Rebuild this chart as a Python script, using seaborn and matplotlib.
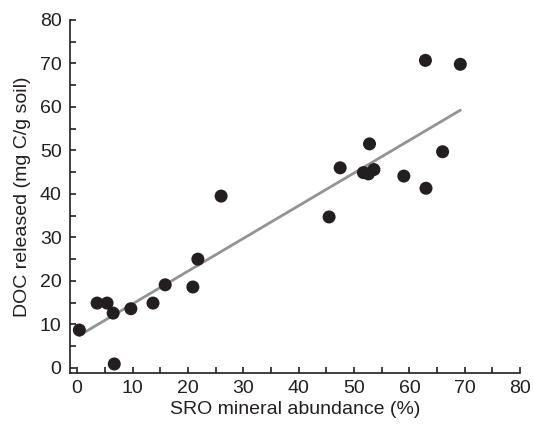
import numpy as np
import pandas as pd
import matplotlib
matplotlib.use('Agg')
import matplotlib.pyplot as plt
import seaborn as sns
from matplotlib.ticker import MultipleLocator

# values
sro_abundance = [0.4, 3.6, 5.4, 6.5, 6.7, 9.7, 13.7, 15.9, 20.9, 21.8, 26.0,
                 45.5, 47.5, 51.7, 52.6, 52.8, 53.6, 59.0, 63.0, 62.9, 66.0, 69.2]
doc_released = [8.7, 14.9, 14.9, 12.6, 0.9, 13.6, 14.9, 19.1, 18.6, 25.0, 39.5,
                34.7, 46.0, 44.9, 44.6, 51.5, 45.6, 44.1, 41.3, 70.7, 49.7, 69.8]

df = pd.DataFrame({'SRO mineral abundance (%)': sro_abundance,
                   'DOC released (mg C/g soil)': doc_released})

sns.set_style('ticks')
plt.rcParams['font.family'] = ['Liberation Sans', 'DejaVu Sans']
ink = '#231f20'

fig = plt.figure(figsize=(5.34, 4.24), dpi=100)
ax = fig.add_axes([0.131, 0.120, 0.843, 0.833])

sns.regplot(data=df, x='SRO mineral abundance (%)', y='DOC released (mg C/g soil)',
            ci=None, truncate=True, ax=ax,
            scatter_kws={'s': 88, 'color': ink, 'edgecolor': 'none', 'alpha': 1, 'zorder': 3},
            line_kws={'color': '#939393', 'lw': 2, 'zorder': 2})

ax.set_xlim(-1.3, 80)
ax.set_ylim(-1.2, 80)
ax.xaxis.set_major_locator(MultipleLocator(10))
ax.yaxis.set_major_locator(MultipleLocator(10))
ax.xaxis.set_minor_locator(MultipleLocator(5))
ax.yaxis.set_minor_locator(MultipleLocator(5))
ax.tick_params(which='both', direction='in', length=4, width=1.2, color=ink,
               labelsize=14, labelcolor=ink)
ax.tick_params(axis='x', pad=5)
ax.tick_params(axis='y', pad=6)
ax.set_xlabel('SRO mineral abundance (%)', fontsize=14, color=ink, labelpad=3)
ax.set_ylabel('DOC released (mg C/g soil)', fontsize=14, color=ink, labelpad=6)
sns.despine(ax=ax)
for s in ['left', 'bottom']:
    ax.spines[s].set_color(ink)
    ax.spines[s].set_linewidth(1.2)

fig.savefig('out.png', dpi=100)
